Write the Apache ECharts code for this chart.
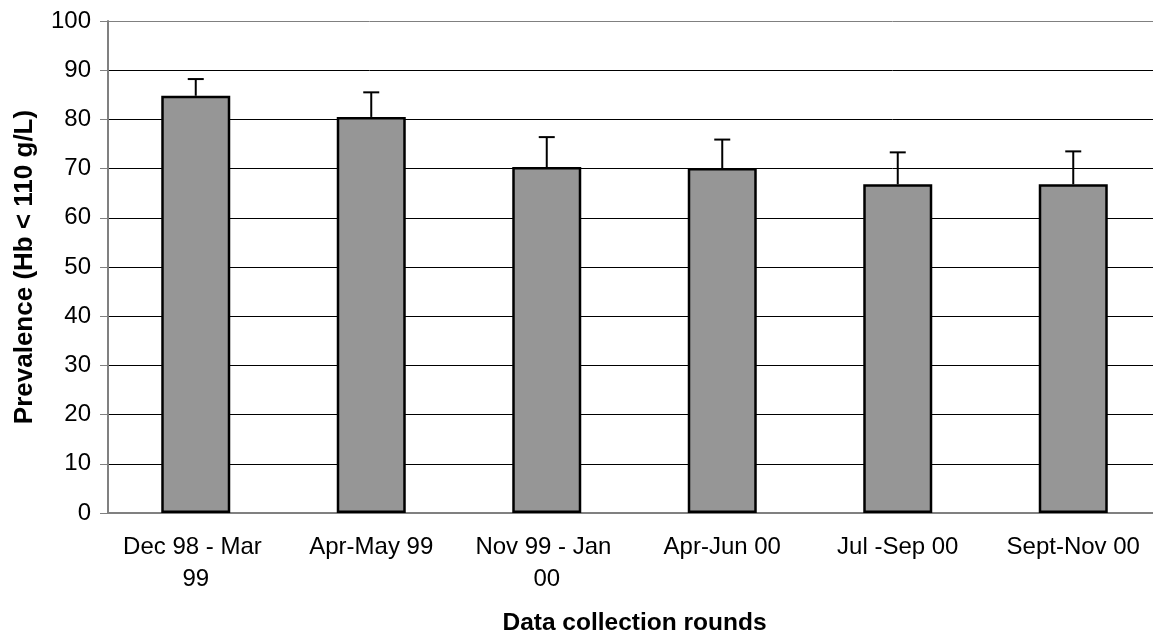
<!DOCTYPE html>
<html>
<head>
<meta charset="utf-8">
<script src="https://cdn.jsdelivr.net/npm/echarts@6/dist/echarts.min.js"></script>
<style>
html,body{margin:0;padding:0;background:#fff;}
#chart{width:1153px;height:636px;}
</style>
</head>
<body>
<div id="chart"></div>
<script>
var categories = ['Dec 98 - Mar 99', 'Apr-May 99', 'Nov 99 - Jan 00', 'Apr-Jun 00', 'Jul -Sep 00', 'Sept-Nov 00'];
var prevalence = [84.8, 80.5, 70.3, 70.1, 66.8, 66.8];
var upperError = [88.2, 85.5, 76.4, 75.9, 73.3, 73.5];
var yTicks = [0, 10, 20, 30, 40, 50, 60, 70, 80, 90, 100];

var chart = echarts.init(document.getElementById('chart'));
var font = '"Liberation Sans", Arial, sans-serif';
var gridColors = yTicks.map(function (v) { return v === 100 ? '#808080' : '#000000'; });

var errData = categories.map(function (c, i) { return [i, prevalence[i], upperError[i]]; });

chart.setOption({
  animation: false,
  grid: { left: 108, top: 21, right: -8, bottom: 123, containLabel: false, outerBoundsMode: 'none' },
  xAxis: {
    type: 'category',
    data: categories,
    name: 'Data collection rounds',
    nameLocation: 'middle',
    nameGap: 98,
    nameTextStyle: { fontFamily: font, fontSize: 24.5, fontWeight: 'bold', color: '#000' },
    axisLine: { lineStyle: { color: '#808080', width: 2 } },
    axisTick: { alignWithLabel: false, length: 8, lineStyle: { color: '#808080', width: 1 } },
    axisLabel: {
      interval: 0, margin: 18, fontFamily: font, fontSize: 24, color: '#000',
      width: 160, overflow: 'break', lineHeight: 32
    }
  },
  yAxis: {
    type: 'value',
    min: 0, max: 100, interval: 10,
    name: 'Prevalence (Hb < 110 g/L)',
    nameLocation: 'middle',
    nameRotate: 90,
    nameGap: 70,
    nameTextStyle: { fontFamily: font, fontSize: 26, fontWeight: 'bold', color: '#000' },
    axisLine: { show: true, lineStyle: { color: '#808080', width: 2 } },
    axisTick: { show: true, length: 8, lineStyle: { color: '#808080', width: 1 } },
    axisLabel: { margin: 17, fontFamily: font, fontSize: 24, color: '#000' },
    splitLine: { show: true, lineStyle: { color: gridColors, width: 1 } }
  },
  series: [
    {
      type: 'bar',
      data: prevalence,
      barWidth: 69,
      itemStyle: { color: '#969696', borderColor: '#000', borderWidth: 2.5 },
      z: 2
    },
    {
      type: 'custom',
      data: errData,
      z: 3,
      renderItem: function (params, api) {
        var x = api.value(0);
        var p0 = api.coord([x, api.value(1)]);
        var p1 = api.coord([x, api.value(2)]);
        var half = 8;
        return {
          type: 'group',
          children: [
            { type: 'line', shape: { x1: p0[0], y1: p0[1], x2: p1[0], y2: p1[1] }, style: { stroke: '#000', lineWidth: 2 } },
            { type: 'line', shape: { x1: p1[0] - half, y1: p1[1], x2: p1[0] + half, y2: p1[1] }, style: { stroke: '#000', lineWidth: 2 } }
          ]
        };
      }
    }
  ]
});
</script>
</body>
</html>
